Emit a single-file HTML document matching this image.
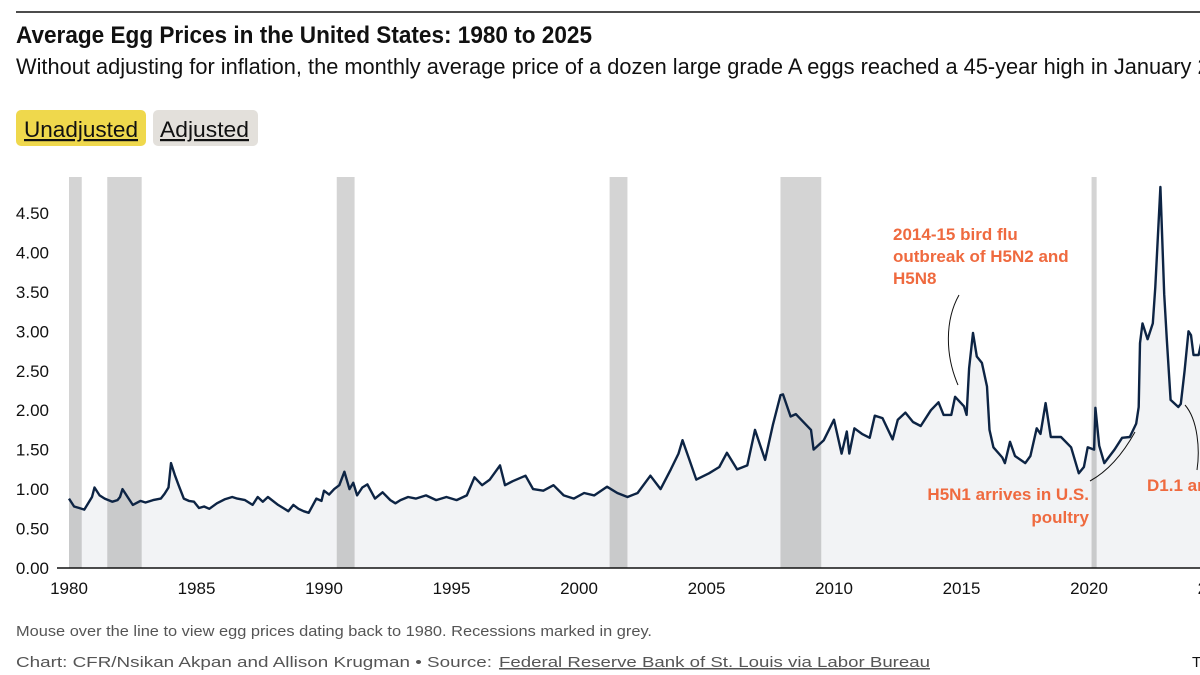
<!DOCTYPE html>
<html><head><meta charset="utf-8"><style>
html,body{margin:0;padding:0;background:#fff;width:1200px;height:675px;overflow:hidden}
svg{display:block}
text{font-family:"Liberation Sans Narrow","Liberation Sans",sans-serif}
</style></head><body>
<svg id="chart" width="1200" height="675" viewBox="0 0 1200 675">
<line x1="16" y1="12" x2="1200" y2="12" stroke="#111" stroke-width="1.5"/>
<text x="16" y="43" font-size="24" font-weight="bold" fill="#111" textLength="576" lengthAdjust="spacingAndGlyphs">Average Egg Prices in the United States: 1980 to 2025</text>
<text x="16" y="74" font-size="22" fill="#111" textLength="1230" lengthAdjust="spacingAndGlyphs">Without adjusting for inflation, the monthly average price of a dozen large grade A eggs reached a 45-year high in January 2025</text>
<g><rect x="16" y="110" width="130" height="36" rx="5" fill="#efd84c"/><text x="24" y="137" font-size="22" fill="#111" text-decoration="underline" textLength="114" lengthAdjust="spacingAndGlyphs">Unadjusted</text></g>
<g><rect x="153" y="110" width="105" height="36" rx="5" fill="#e3e0db"/><text x="160" y="137" font-size="22" fill="#111" text-decoration="underline" textLength="89" lengthAdjust="spacingAndGlyphs">Adjusted</text></g>
<g id="plot"></g>
<text x="16" y="636" font-size="15" fill="#555" textLength="636" lengthAdjust="spacingAndGlyphs">Mouse over the line to view egg prices dating back to 1980. Recessions marked in grey.</text>
<text x="16" y="667" font-size="15" fill="#555" textLength="476" lengthAdjust="spacingAndGlyphs">Chart: CFR/Nsikan Akpan and Allison Krugman • Source:</text>
<text x="499" y="667" font-size="15" fill="#555" text-decoration="underline" textLength="431" lengthAdjust="spacingAndGlyphs">Federal Reserve Bank of St. Louis via Labor Bureau</text>
<text x="1192" y="667" font-size="15" fill="#111">T</text>
</svg>
<script>
const years = [1980.0,1980.2,1980.4,1980.6,1980.9,1981.0,1981.2,1981.4,1981.7,1981.9,1982.0,1982.1,1982.3,1982.5,1982.8,1983.0,1983.3,1983.6,1983.75,1983.9,1984.0,1984.15,1984.3,1984.5,1984.7,1984.9,1985.1,1985.3,1985.5,1985.8,1986.1,1986.4,1986.6,1986.9,1987.2,1987.4,1987.6,1987.8,1988.2,1988.4,1988.6,1988.8,1989.0,1989.2,1989.4,1989.7,1989.9,1990.0,1990.2,1990.4,1990.6,1990.8,1991.0,1991.15,1991.3,1991.5,1991.7,1992.0,1992.3,1992.6,1992.8,1993.0,1993.3,1993.6,1994.0,1994.4,1994.8,1995.2,1995.6,1995.9,1996.2,1996.5,1996.9,1997.1,1997.4,1997.9,1998.2,1998.6,1999.0,1999.4,1999.8,2000.2,2000.6,2001.1,2001.5,2001.9,2002.3,2002.8,2003.2,2003.6,2003.9,2004.06,2004.3,2004.6,2005.1,2005.5,2005.8,2006.2,2006.6,2006.9,2007.3,2007.6,2007.9,2008.0,2008.3,2008.5,2009.1,2009.2,2009.6,2010.0,2010.3,2010.5,2010.6,2010.8,2011.1,2011.4,2011.6,2011.9,2012.3,2012.5,2012.8,2013.1,2013.4,2013.8,2014.1,2014.3,2014.6,2014.75,2015.1,2015.2,2015.3,2015.45,2015.6,2015.8,2016.0,2016.1,2016.25,2016.6,2016.7,2016.9,2017.1,2017.5,2017.7,2017.95,2018.1,2018.3,2018.5,2018.9,2019.3,2019.6,2019.8,2019.95,2020.2,2020.25,2020.4,2020.6,2021.0,2021.3,2021.6,2021.85,2021.95,2022.0,2022.1,2022.3,2022.5,2022.6,2022.8,2022.95,2023.05,2023.2,2023.5,2023.6,2023.75,2023.9,2024.0,2024.1,2024.3,2024.5];
const prices = [0.88,0.78,0.76,0.74,0.90,1.02,0.92,0.88,0.84,0.86,0.90,1.00,0.90,0.80,0.85,0.83,0.86,0.88,0.94,1.02,1.33,1.18,1.05,0.88,0.85,0.84,0.76,0.78,0.75,0.82,0.87,0.90,0.88,0.86,0.80,0.90,0.84,0.90,0.80,0.76,0.72,0.80,0.75,0.72,0.70,0.88,0.85,0.98,0.93,1.00,1.05,1.22,1.00,1.08,0.92,1.02,1.06,0.88,0.96,0.86,0.82,0.86,0.90,0.88,0.92,0.86,0.90,0.86,0.92,1.15,1.05,1.12,1.30,1.05,1.10,1.17,1.00,0.98,1.05,0.92,0.88,0.95,0.92,1.03,0.95,0.90,0.95,1.17,1.00,1.25,1.45,1.62,1.40,1.12,1.20,1.28,1.46,1.25,1.30,1.75,1.37,1.81,2.19,2.20,1.92,1.95,1.75,1.50,1.62,1.88,1.45,1.73,1.45,1.77,1.70,1.65,1.93,1.90,1.63,1.88,1.97,1.85,1.80,2.00,2.10,1.94,1.94,2.17,2.05,1.94,2.53,2.98,2.68,2.60,2.30,1.75,1.53,1.40,1.33,1.60,1.42,1.33,1.42,1.77,1.70,2.09,1.66,1.66,1.53,1.20,1.28,1.53,1.50,2.03,1.55,1.33,1.50,1.65,1.66,1.83,2.04,2.85,3.10,2.90,3.10,3.56,4.83,3.47,2.90,2.13,2.04,2.08,2.50,3.00,2.95,2.70,2.70,3.00];
const recStart = [1980.0,1981.5,1990.5,2001.2,2007.9,2020.1];
const recEnd = [1980.5,1982.85,1991.2,2001.9,2009.5,2020.3];
const yTicks = [0,0.5,1,1.5,2,2.5,3,3.5,4,4.5];
const xTicks = [1980,1985,1990,1995,2000,2005,2010,2015,2020,2025];

const NS='http://www.w3.org/2000/svg';
const X0=69, PPY=25.5, Y0=568, PPU=78.9;
const xs=v=>X0+(v-1980)*PPY, ys=v=>Y0-v*PPU;
const plot=document.getElementById('plot');
function mk(tag,attrs,parent){const e=document.createElementNS(NS,tag);for(const k in attrs)e.setAttribute(k,attrs[k]);(parent||plot).appendChild(e);return e;}

let pts=years.map((y,i)=>xs(y).toFixed(1)+','+ys(prices[i]).toFixed(1));
const area=mk('path',{d:'M'+xs(years[0])+','+Y0+' L'+pts.join(' L')+' L1200,'+ys(prices[prices.length-1])+' L1200,'+Y0+' Z',fill:'#f2f3f5'});


recStart.forEach((s,i)=>{
  const r=mk('rect',{x:xs(s),y:177,width:xs(recEnd[i])-xs(s),height:Y0-177,fill:'rgba(0,0,0,0.17)'});
  
  
});
yTicks.forEach(v=>{
  const t=mk('text',{x:49,y:ys(v)+6,'text-anchor':'end','font-size':17,fill:'#111'});
  t.textContent=v.toFixed(2);
  
  
});
xTicks.forEach(v=>{
  const t=mk('text',{x:xs(v),y:594,'text-anchor':'middle','font-size':17,fill:'#111'});
  t.textContent=v;
  
  
});
const ax=mk('line',{x1:57,y1:Y0,x2:1200,y2:Y0,stroke:'#111','stroke-width':1.5});


const ln=mk('polyline',{points:pts.join(' ')+' 1200,'+ys(prices[prices.length-1]),fill:'none',stroke:'#0d2444','stroke-width':2.4,'stroke-linejoin':'round'});


const c1=mk('path',{d:'M959,295 C945,320 945,355 958,385',fill:'none',stroke:'#111','stroke-width':1});


const c2=mk('path',{d:'M1090,481 C1110,470 1125,450 1135,432',fill:'none',stroke:'#111','stroke-width':1});


const c3=mk('path',{d:'M1185,405 C1198,420 1200,450 1197,470',fill:'none',stroke:'#111','stroke-width':1});


const ann=[['2014-15 bird flu',893,240,'start','annotation-2014-line1'],['outbreak of H5N2 and',893,262,'start','annotation-2014-line2'],['H5N8',893,284,'start','annotation-2014-line3'],['H5N1 arrives in U.S.',1089,500,'end','annotation-h5n1-line1'],['poultry',1089,523,'end','annotation-h5n1-line2'],['D1.1 arrives',1147,491,'start','annotation-d11']];
ann.forEach(a=>{
  const t=mk('text',{x:a[1],y:a[2],'text-anchor':a[3],'font-size':17,'font-weight':'bold',fill:'#ef6a3f',style:'font-family:"Liberation Sans",sans-serif'});
  t.textContent=a[0];
  
  
});
</script>
</body></html>
